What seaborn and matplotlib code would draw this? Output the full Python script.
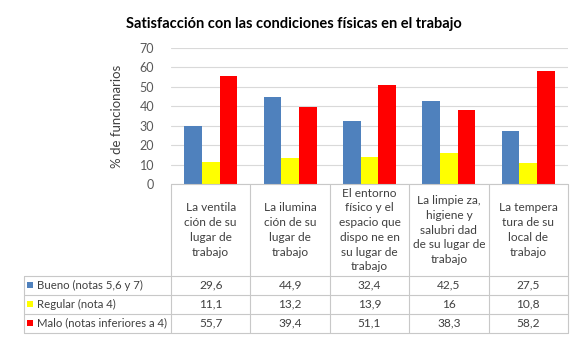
import matplotlib
matplotlib.use("Agg")
import matplotlib.pyplot as plt
from matplotlib.lines import Line2D
from matplotlib.patches import Rectangle
import pandas as pd
import seaborn as sns

categories = [
    "La ventila\nción de su\nlugar de\ntrabajo",
    "La ilumina\nción de su\nlugar de\ntrabajo",
    "El entorno\nfísico y el\nespacio que\ndispo ne en\nsu lugar de\ntrabajo",
    "La limpie za,\nhigiene y\nsalubri dad\nde su lugar de\ntrabajo",
    "La tempera\ntura de su\nlocal de\ntrabajo",
]
series_names = ["Bueno (notas 5,6 y 7)", "Regular (nota 4)", "Malo (notas inferiores a 4)"]
bueno = [29.6, 44.9, 32.4, 42.5, 27.5]
regular = [11.1, 13.2, 13.9, 16.0, 10.8]
malo = [55.7, 39.4, 51.1, 38.3, 58.2]
value_labels = [
    ["29,6", "44,9", "32,4", "42,5", "27,5"],
    ["11,1", "13,2", "13,9", "16", "10,8"],
    ["55,7", "39,4", "51,1", "38,3", "58,2"],
]
colors = ["#4F81BD", "#FFFF00", "#FF0000"]
y_ticks = [0, 10, 20, 30, 40, 50, 60, 70]

sns.set_style("white")
plt.rcParams["font.family"] = ["Lato", "DejaVu Sans"]

W, H = 585, 342
fig = plt.figure(figsize=(W / 100, H / 100), dpi=100)


def fx(x):
    return x / W


def fy(y):
    return 1 - y / H


# plot area in pixel coordinates
PL, PR, PT, PB = 171, 568, 48, 184
ax = fig.add_axes([fx(PL), fy(PB), fx(PR) - fx(PL), fy(PT) - fy(PB)])

df = pd.DataFrame({
    "cat": [str(i) for i in range(len(categories))] * 3,
    "serie": sum([[s] * len(categories) for s in series_names], []),
    "valor": bueno + regular + malo,
})
sns.barplot(data=df, x="cat", y="valor", hue="serie", palette=colors,
            width=0.665, gap=0, ax=ax, legend=False, saturation=1,
            edgecolor="none", zorder=3)

ax.set_ylim(0, 70)
ax.set_xlim(-0.5, len(categories) - 0.5)
ax.set_yticks(y_ticks)
ax.set_yticklabels([str(t) for t in y_ticks], color="#595959", fontsize=9)
ax.tick_params(axis="y", length=0, pad=12)
ax.set_xticks([])
ax.set_xlabel("")
ax.set_ylabel("% de funcionarios", fontsize=9.5, color="#404040", labelpad=12)
ax.grid(axis="y", color="#D9D9D9", linewidth=0.8, zorder=0)
for s in ax.spines.values():
    s.set_visible(False)

fig.text(fx(294), fy(24), "Satisfacción con las condiciones físicas en el trabajo",
         ha="center", va="center", fontsize=10.5, fontweight="bold", color="#000000")

# data table below the plot
line_kw = dict(color="#C8C8C8", linewidth=0.8)
TL = 24
rows_y = [276, 294.5, 313.5, 333]
bounds_px = [ax.transData.transform((i - 0.5, 0))[0] for i in range(len(categories) + 1)]

# horizontal lines
fig.add_artist(Line2D([fx(PL), fx(PR)], [fy(PB), fy(PB)], **line_kw))
for y in rows_y:
    fig.add_artist(Line2D([fx(TL), fx(PR)], [fy(y), fy(y)], **line_kw))
# vertical lines
for b in bounds_px:
    fig.add_artist(Line2D([b / W, b / W], [fy(PB), fy(rows_y[-1])], **line_kw))
fig.add_artist(Line2D([fx(TL), fx(TL)], [fy(rows_y[0]), fy(rows_y[-1])], **line_kw))

text_color = "#404040"
header_mid = (PB + rows_y[0]) / 2
for i, cat in enumerate(categories):
    cx = (bounds_px[i] + bounds_px[i + 1]) / 2 / W
    fig.text(cx, fy(header_mid), cat, ha="center", va="center", fontsize=8.6,
             color=text_color, linespacing=1.42, multialignment="center")

for r, name in enumerate(series_names):
    ymid = (rows_y[r] + rows_y[r + 1]) / 2
    fig.add_artist(Rectangle((fx(27), fy(ymid + 3)), 6 / W, 6 / H,
                             transform=fig.transFigure, facecolor=colors[r],
                             edgecolor="none"))
    fig.text(fx(37), fy(ymid), name, ha="left", va="center", fontsize=8.2,
             color=text_color)
    for i in range(len(categories)):
        cx = (bounds_px[i] + bounds_px[i + 1]) / 2 / W
        fig.text(cx, fy(ymid), value_labels[r][i], ha="center", va="center",
                 fontsize=8.6, color=text_color)

fig.savefig("out.png", dpi=100)
